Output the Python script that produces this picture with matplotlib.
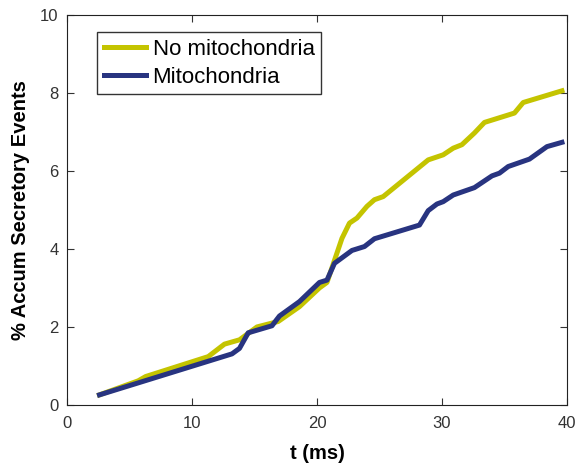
import matplotlib
matplotlib.use("Agg")
import matplotlib.pyplot as plt

plt.rcParams['font.family'] = ['Liberation Sans', 'DejaVu Sans']

t_nomito = [2.6, 5.7, 6.3, 11.3, 12.6, 13.8, 15.2, 16.9, 18.6, 20.2, 20.8, 22.0, 22.6,
            23.2, 24.0, 24.6, 25.3, 28.9, 30.1, 30.9, 31.6, 32.6, 33.4, 35.8, 36.5, 39.6]
y_nomito = [0.26, 0.62, 0.73, 1.24, 1.56, 1.67, 2.0, 2.14, 2.52, 3.0, 3.14, 4.27, 4.66,
            4.79, 5.09, 5.26, 5.34, 6.28, 6.41, 6.58, 6.67, 6.97, 7.24, 7.48, 7.75, 8.05]

t_mito = [2.6, 13.2, 13.8, 14.5, 16.4, 17.0, 18.6, 20.2, 20.8, 21.4, 22.8, 23.8, 24.6,
          28.2, 28.9, 29.6, 30.1, 30.9, 32.6, 34.0, 34.6, 35.3, 37.0, 38.4, 39.6]
y_mito = [0.26, 1.31, 1.45, 1.85, 2.03, 2.28, 2.65, 3.14, 3.2, 3.63, 3.96, 4.06, 4.26,
          4.61, 4.98, 5.15, 5.21, 5.38, 5.57, 5.87, 5.94, 6.11, 6.3, 6.62, 6.73]

fig = plt.figure(figsize=(5.8, 4.68), dpi=100)
ax = fig.add_axes([0.1155, 0.1346, 0.862, 0.834])

ax.plot(t_nomito, y_nomito, color='#c4c400', lw=3.6, label='No mitochondria')
ax.plot(t_mito, y_mito, color='#283480', lw=3.6, label='Mitochondria')

ax.set_xlim(0, 40)
ax.set_ylim(0, 10)
ax.set_xticks([0, 10, 20, 30, 40])
ax.set_yticks([0, 2, 4, 6, 8, 10])
ax.tick_params(direction='in', top=True, right=True, labelsize=12, length=5, colors='#333333')
ax.tick_params(axis='x', pad=8)
ax.tick_params(axis='y', pad=6)
ax.set_xlabel('t (ms)', fontsize=14.5, fontweight='bold', labelpad=9)
ax.set_ylabel('% Accum Secretory Events', fontsize=14.5, fontweight='bold', labelpad=7)
for s in ax.spines.values():
    s.set_color('#222222')

leg = ax.legend(loc='upper left', bbox_to_anchor=(0.06, 0.955), fontsize=16, frameon=True,
                fancybox=False, edgecolor='black', handlelength=1.9, handletextpad=0.3,
                borderpad=0.3, labelspacing=0.3, borderaxespad=0)
leg.get_frame().set_linewidth(1.0)

fig.savefig('out.png', dpi=100)
